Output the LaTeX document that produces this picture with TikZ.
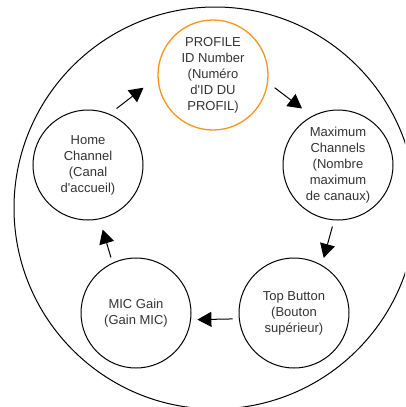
\documentclass[tikz,border=0pt]{standalone}
\usepackage{fontspec}
\setmainfont{Liberation Sans}
\usepackage{xcolor}
\usepackage{tikz}
\usetikzlibrary{arrows.meta}
\definecolor{menuorange}{HTML}{F7941D}
\definecolor{menutext}{HTML}{333333}

\begin{document}
\begin{tikzpicture}[x=1pt, y=-1pt,
    phase/.style={draw, circle, line width=1pt, minimum size=110pt, inner sep=0pt,
      align=center, text=menutext, font=\fontsize{13}{16}\selectfont},
    flow/.style={-{Triangle[length=14pt, width=15pt]}, line width=1pt}]
  \useasboundingbox (0,0) rectangle (405,407);
  \clip (0,0) rectangle (405,407);
  \draw[line width=1pt] (215,208) circle[radius=201pt];

  \node[phase, draw=menuorange, line width=1.3pt] (profile) at (213,75) {PROFILE\\ID Number\\(Numéro\\d\textquotesingle ID DU\\PROFIL)};
  \node[phase] (maxch) at (338,165) {Maximum\\Channels\\(Nombre\\maximum\\de canaux)};
  \node[phase] (topbtn) at (294,313) {Top Button\\(Bouton\\supérieur)};
  \node[phase] (micgain) at (136,313) {MIC Gain\\(Gain MIC)};
  \node[phase] (home) at (88,165) {Home\\Channel\\(Canal\\d\textquotesingle accueil)};

  \draw[flow, shorten <=8.7pt, shorten >=17.6pt] (home.67.5) -- (profile.182.6);
  \draw[flow, shorten <=8.2pt, shorten >=12.4pt] (profile.352.8) -- (maxch.118.5);
  \draw[flow, shorten <=6.4pt, shorten >=7.3pt] (maxch.266.8) -- (topbtn.60.8);
  \draw[flow, shorten <=6.3pt, shorten >=6.3pt] (topbtn.186.3) -- (micgain.353.7);
  \draw[flow, shorten <=5.5pt, shorten >=10.8pt] (micgain.115.3) -- (home.282.8);
\end{tikzpicture}
\end{document}
